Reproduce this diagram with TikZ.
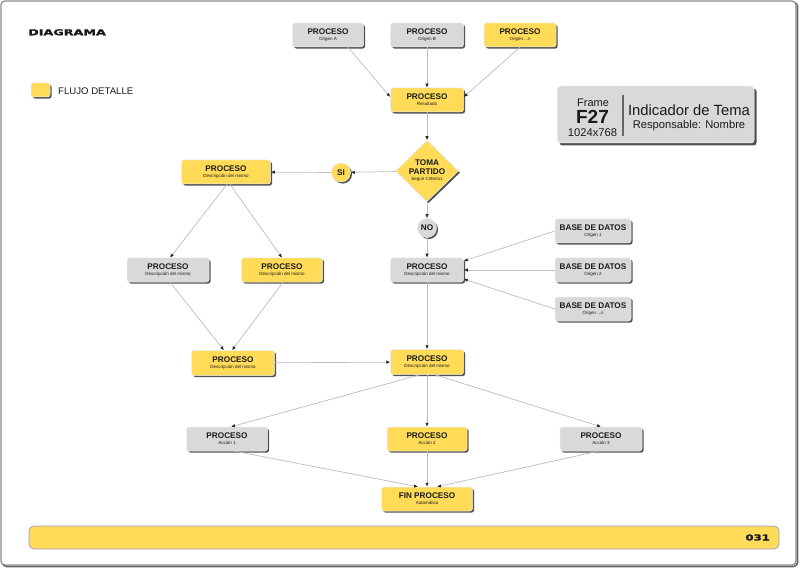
\documentclass[tikz,border=0pt]{standalone}
\usepackage{fontspec}
\setmainfont{Liberation Sans}
\newfontfamily\hvyfont{DejaVu Sans}[BoldFeatures={FakeBold=1.6}]
\usetikzlibrary{shapes.geometric,arrows.meta,shadows,calc}
\definecolor{ylw}{HTML}{FFDB58}
\definecolor{gry}{HTML}{D9D9D9}
\definecolor{lin}{HTML}{BDBDBD}
\definecolor{txt}{HTML}{1A1A1A}
\newcommand{\ttlf}{\fontsize{8.2}{6}\selectfont\bfseries}
\newcommand{\subf}{\fontsize{4.5}{6}\selectfont}
\newcommand{\twol}[2]{{\ttlf #1}\\{\subf #2}}
\tikzset{
  shd/.style={drop shadow={shadow xshift=1.6pt, shadow yshift=-1.6pt, fill=black!80, opacity=0.85}},
  box/.style={rectangle, rounded corners=2.5pt, draw=white!85!gray, line width=0.5pt,
    minimum height=24pt, inner sep=0pt, align=center, font=\subf, text=txt, shd},
  ybox/.style={box, fill=ylw},
  gbox/.style={box, fill=gry},
  circ/.style={circle, minimum size=19pt, inner sep=0pt, draw=white!85!gray, line width=0.5pt,
    font=\ttlf, text=txt, shd},
  conn/.style={draw=lin, line width=0.7pt, -{Latex[length=4pt,width=3.4pt,color=black!85]}},
}
\begin{document}
\begin{tikzpicture}[x=1pt,y=-1pt]
\useasboundingbox (0,0) rectangle (800,569);
% outer frame
\draw[line width=1.6pt, black!60, rounded corners=4pt] (2.5,2.5) rectangle (797.5,566.5);
\draw[line width=1.2pt, black!45, fill=white, rounded corners=4pt] (1,1) rectangle (796,565);

% title and legend
\node[anchor=base west, inner sep=0pt, text=txt] (title) at (28,35.3)
  {\scalebox{1.55}[1]{\hvyfont\fontsize{8.2}{8.2}\selectfont\bfseries DIAGRAMA}};
\node[rectangle, rounded corners=2.5pt, fill=ylw, draw=white!85!gray, line width=0.5pt,
  minimum width=19pt, minimum height=14pt, inner sep=0pt, shd] (leg) at (40.5,90) {};
\node[anchor=base west, inner sep=0pt, text=txt, font=\fontsize{9.6}{10}\selectfont] (legt) at (58,95) {FLUJO DETALLE};

% frame info box
\node[rectangle, rounded corners=3pt, fill=gry, draw=white, line width=0.5pt,
  minimum width=197pt, minimum height=57pt, inner sep=0pt,
  drop shadow={shadow xshift=2.5pt, shadow yshift=-2.5pt, fill=black!80, opacity=0.85}] (fr) at (655.5,114.5) {};
\node[anchor=base, inner sep=0pt, text=txt, font=\fontsize{11}{11}\selectfont] (frA) at (593,107) {Frame};
\node[anchor=base, inner sep=0pt, text=txt, font=\fontsize{19}{19}\selectfont\bfseries] (frB) at (592.5,123.3) {F27};
\node[anchor=base, inner sep=0pt, text=txt, font=\fontsize{11.2}{11.2}\selectfont] (frC) at (592.5,136.5) {1024x768};
\coordinate (dv1) at (623,95);
\coordinate (dv2) at (623,136);
\draw[black!60, line width=1.2pt] (dv1) -- (dv2);
\node[anchor=base, inner sep=0pt, text=txt, font=\fontsize{14.8}{15}\selectfont] (frD) at (689,116) {Indicador de Tema};
\node[anchor=base, inner sep=0pt, text=txt, font=\fontsize{11.2}{11.2}\selectfont] (frE) at (689,128.3) {Responsable: Nombre};

% bottom bar
\node[rectangle, rounded corners=5pt, fill=ylw, draw=gray!70!blue!60, line width=0.8pt,
  minimum width=750pt, minimum height=23pt, inner sep=0pt] (bar) at (404,537.5) {};
\node[anchor=base east, inner sep=0pt, text=txt] (pg) at (770,540.5)
  {\scalebox{1.42}[1]{\hvyfont\fontsize{8.2}{8.2}\selectfont\bfseries 031}};

% nodes
\node[gbox, minimum width=71pt] (oa) at (328,35) {\twol{PROCESO}{Origen A}};
\node[gbox, minimum width=73pt] (ob) at (427,35) {\twol{PROCESO}{Origen B}};
\node[ybox, minimum width=72pt] (on) at (520,35) {\twol{PROCESO}{Origen ...n}};
\node[ybox, minimum width=73pt] (res) at (427,100) {\twol{PROCESO}{Resultado}};
\node[diamond, fill=ylw, draw=white!85!gray, line width=0.5pt, minimum width=63pt, minimum height=61pt,
  inner sep=0pt, align=center, font=\subf, text=txt, shd] (dec) at (427,171)
  {{\ttlf TOMA}\\[3pt]{\ttlf PARTIDO}\\{\subf Seguir Criterio1}};
\node[circ, fill=ylw] (si) at (341,172.5) {SI};
\node[circ, fill=gry] (no) at (427,228) {NO};
\node[ybox, minimum width=89pt] (p1) at (226,172) {\twol{PROCESO}{Descripción del mismo}};
\node[gbox, minimum width=82pt] (p2) at (168,270) {\twol{PROCESO}{Descripción del mismo}};
\node[ybox, minimum width=81pt] (p3) at (282,270) {\twol{PROCESO}{Descripción del mismo}};
\node[gbox, minimum width=73pt] (pc) at (427,270) {\twol{PROCESO}{Descripción del mismo}};
\node[gbox, minimum width=76pt] (bd1) at (593,231) {\twol{BASE DE DATOS}{Origen 1}};
\node[gbox, minimum width=76pt] (bd2) at (593,270) {\twol{BASE DE DATOS}{Origen 2}};
\node[gbox, minimum width=76pt] (bd3) at (593,309) {\twol{BASE DE DATOS}{Origen ...n}};
\node[ybox, minimum width=83pt, minimum height=25pt] (p4) at (233,363) {\twol{PROCESO}{Descripción del mismo}};
\node[ybox, minimum width=73pt, minimum height=25pt] (p5) at (427,362) {\twol{PROCESO}{Descripción del mismo}};
\node[gbox, minimum width=81pt] (a1) at (227,439) {\twol{PROCESO}{Acción 1}};
\node[ybox, minimum width=80pt] (a2) at (427,439) {\twol{PROCESO}{Acción 2}};
\node[gbox, minimum width=82pt] (a3) at (601,439) {\twol{PROCESO}{Acción 3}};
\node[ybox, minimum width=91pt] (fin) at (427,499) {\twol{FIN PROCESO}{Automático}};

% connectors
\draw[conn] ($(oa.south)+(20,0)$) -- ($(res.west)+(0,-3)$);
\draw[conn] (ob) -- (res);
\draw[conn] (on.south) -- ($(res.east)+(0,-3)$);
\draw[conn] (res) -- (dec);
\draw[conn] (dec) -- (si);
\draw[conn] (si) -- (p1);
\draw[conn] (dec) -- (no);
\draw[conn] (no) -- (pc);
\draw[conn] ($(p1.south)+(1,0)$) -- ($(p2.north)+(2,0)$);
\draw[conn] ($(p1.south)+(4,0)$) -- (p3.north);
\draw[conn] ($(p2.south)+(2,0)$) -- ($(p4.north)+(-9,0)$);
\draw[conn] ($(p3.south)+(1,0)$) -- ($(p4.north)+(-1,0)$);
\draw[conn] (p4) -- (p5);
\draw[conn] (pc) -- (p5);
\draw[conn] (bd1.west) -- ($(pc.east)+(0,-9)$);
\draw[conn] (bd2) -- (pc);
\draw[conn] (bd3.west) -- ($(pc.east)+(0,9)$);
\draw[conn] ($(p5.south)+(-7,0)$) -- ($(a1.north)+(4,0)$);
\draw[conn] (p5) -- (a2);
\draw[conn] ($(p5.south)+(8,0)$) -- (a3.north);
\draw[conn] ($(a1.south)+(8,0)$) -- ($(fin.north)+(-9,0)$);
\draw[conn] (a2) -- (fin);
\draw[conn] ($(a3.south)+(-3,0)$) -- ($(fin.north)+(10,0)$);
\end{tikzpicture}
\end{document}
